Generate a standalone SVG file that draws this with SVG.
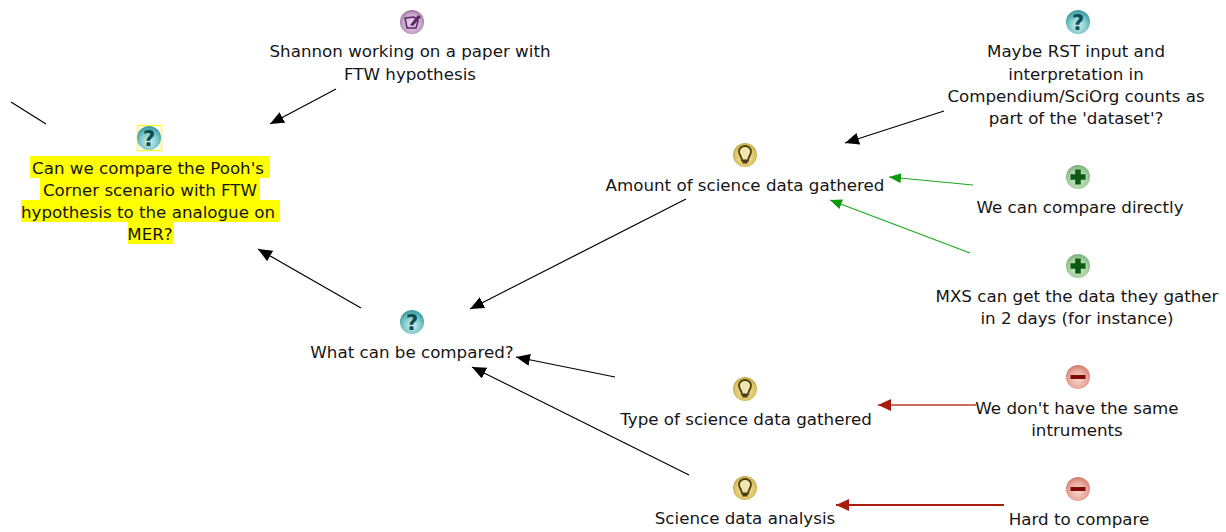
<svg xmlns="http://www.w3.org/2000/svg" width="1226" height="532" viewBox="0 0 1226 532">
<style>
text{font-family:"DejaVu Sans","Liberation Sans",sans-serif;font-size:16.7px;fill:#151515;text-anchor:middle}
text.g{font-weight:bold;font-size:21px;fill:#0d4c50}
.l{fill:none;stroke:#000;stroke-width:1.2}
.hi{fill:#ffff00}
</style>
<defs>
<radialGradient id="teal" cx=".5" cy=".65" r=".6"><stop offset="0" stop-color="#d8f0f0"/><stop offset=".6" stop-color="#7fcaca"/><stop offset="1" stop-color="#3f9ea3"/></radialGradient>
<radialGradient id="gold" cx=".5" cy=".55" r=".6"><stop offset="0" stop-color="#f6eab4"/><stop offset=".65" stop-color="#dfc76c"/><stop offset="1" stop-color="#b9a040"/></radialGradient>
<radialGradient id="green" cx=".5" cy=".6" r=".6"><stop offset="0" stop-color="#d6ecd2"/><stop offset=".65" stop-color="#a6d0a2"/><stop offset="1" stop-color="#76ad76"/></radialGradient>
<radialGradient id="red" cx=".5" cy=".6" r=".6"><stop offset="0" stop-color="#f8d8d0"/><stop offset=".65" stop-color="#e8a79a"/><stop offset="1" stop-color="#cf7568"/></radialGradient>
<radialGradient id="purple" cx=".5" cy=".55" r=".6"><stop offset="0" stop-color="#ecdcec"/><stop offset=".65" stop-color="#c8a6ca"/><stop offset="1" stop-color="#8d5a92"/></radialGradient>
<marker id="ab" markerUnits="userSpaceOnUse" markerWidth="16" markerHeight="14" refX="14" refY="6" orient="auto"><path d="M0 0L14 6L0 12Z" fill="#000"/></marker>
<marker id="ag" markerUnits="userSpaceOnUse" markerWidth="16" markerHeight="14" refX="12" refY="5" orient="auto"><path d="M0 0L12 5L0 10Z" fill="#0a9a0a"/></marker>
<marker id="ar" markerUnits="userSpaceOnUse" markerWidth="16" markerHeight="14" refX="13" refY="6" orient="auto"><path d="M0 0L13 6L0 12Z" fill="#a81c0c"/></marker>
<g id="qi"><circle r="12" fill="url(#teal)"/><text class="g" y="7.500">?</text></g>
<g id="bi"><circle r="12" fill="url(#gold)"/><path d="M-3 5.500C-3 2-6 0-6-3.500C-6-7-3-9 0-9C3-9 6-7 6-3.500C6 0 3 2 3 5.500ZM-2.500 7.500H2.500" fill="#f2e6b0" stroke="#4a3c0c" stroke-width="1.800"/></g>
<g id="pi"><circle r="12" fill="url(#green)"/><path d="M-2.800-7.500H2.800V-2.800H7.500V2.800H2.800V7.500H-2.800V2.800H-7.500V-2.800H-2.800Z" fill="#0d5a12"/></g>
<g id="mi"><circle r="12" fill="url(#red)"/><rect x="-7.500" y="-2" width="15" height="4" fill="#7d0a04"/></g>
</defs>
<rect width="1226" height="532" fill="#fff"/>
<g id="connectors">
<path class="l" d="M336 89L270 124" marker-end="url(#ab)"/>
<path class="l" d="M11 102L46 124"/>
<path class="l" d="M361 308L258 249" marker-end="url(#ab)"/>
<path class="l" d="M686 199L470 309" marker-end="url(#ab)"/>
<path class="l" d="M615 377L516 357" marker-end="url(#ab)"/>
<path class="l" d="M689 475L472 367" marker-end="url(#ab)"/>
<path class="l" d="M944 111L845 143" marker-end="url(#ab)"/>
<path class="l" style="stroke:#1ca81c" d="M973 185L889 177" marker-end="url(#ag)"/>
<path class="l" style="stroke:#1ca81c" d="M970 253L830 200" marker-end="url(#ag)"/>
<path class="l" style="stroke:#b8402e;stroke-width:1.500" d="M976 405L878 405" marker-end="url(#ar)"/>
<path class="l" style="stroke:#a81c0c;stroke-width:2" d="M1004 505L836 505" marker-end="url(#ar)"/>
</g>
<g id="n-shannon">
<circle cx="412" cy="22" r="12" fill="url(#purple)"/>
<path d="M405 18L414 17L418 21L416 28L407 28Z" fill="none" stroke="#5c2a66" stroke-width="1.500"/>
<path d="M410 25L418 15L421 17L413 26Z" fill="#5c2a66"/>
<text x="410" y="57">Shannon working on a paper with</text>
<text x="410" y="80">FTW hypothesis</text>
</g>
<g id="n-pooh">
<rect x="137.500" y="125.500" width="24" height="25" fill="#fff" stroke="#ffff33" stroke-width="1.500"/>
<use href="#qi" x="149" y="138"/>
<rect class="hi" x="30" y="156" width="240" height="22"/>
<rect class="hi" x="40" y="178" width="220" height="22"/>
<rect class="hi" x="21" y="200" width="259" height="22"/>
<rect class="hi" x="128" y="222" width="45" height="22"/>
<text x="148" y="174">Can we compare the Pooh's</text>
<text x="150" y="196">Corner scenario with FTW</text>
<text x="148" y="218">hypothesis to the analogue on</text>
<text x="150" y="240">MER?</text>
</g>
<g id="n-what">
<use href="#qi" x="412" y="322"/>
<text x="412" y="358">What can be compared?</text>
</g>
<g id="n-amount">
<use href="#bi" x="745" y="155"/>
<text x="745" y="191">Amount of science data gathered</text>
</g>
<g id="n-type">
<use href="#bi" x="745" y="389"/>
<text x="746" y="425">Type of science data gathered</text>
</g>
<g id="n-analysis">
<use href="#bi" x="745" y="488"/>
<text x="745" y="524">Science data analysis</text>
</g>
<g id="n-rst">
<use href="#qi" x="1078" y="22"/>
<text x="1076" y="57">Maybe RST input and</text>
<text x="1076" y="80">interpretation in</text>
<text x="1076" y="102">Compendium/SciOrg counts as</text>
<text x="1076" y="124">part of the 'dataset'?</text>
</g>
<g id="n-direct">
<use href="#pi" x="1078" y="177"/>
<text x="1080" y="213">We can compare directly</text>
</g>
<g id="n-mxs">
<use href="#pi" x="1078" y="266"/>
<text x="1077" y="302">MXS can get the data they gather</text>
<text x="1077" y="324">in 2 days (for instance)</text>
</g>
<g id="n-same">
<use href="#mi" x="1078" y="377"/>
<text x="1077" y="414">We don't have the same</text>
<text x="1077" y="436">intruments</text>
</g>
<g id="n-hard">
<use href="#mi" x="1078" y="489"/>
<text x="1079" y="525">Hard to compare</text>
</g>
</svg>
